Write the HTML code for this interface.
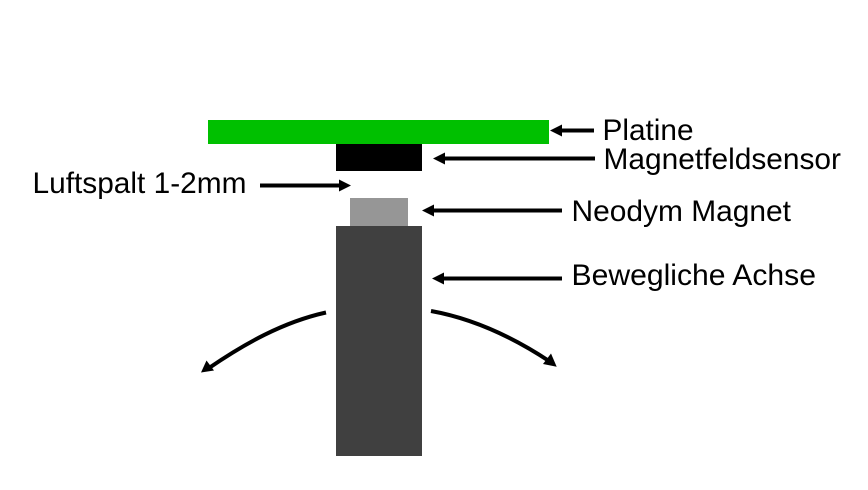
<!DOCTYPE html>
<html>
<head>
<meta charset="utf-8">
<style>
html,body{margin:0;padding:0;background:#fff;width:868px;height:490px;overflow:hidden}
svg{display:block}
text{font-family:"Liberation Sans",Arial,sans-serif;font-size:29.8px;fill:#000}
</style>
</head>
<body>
<svg width="868" height="490" viewBox="0 0 868 490" xmlns="http://www.w3.org/2000/svg">
<rect width="868" height="490" fill="#fff"/>
<rect x="208" y="120" width="341" height="24" fill="#00c000"/>
<rect x="336" y="144" width="86" height="27" fill="#000"/>
<rect x="350" y="198" width="58" height="28" fill="#969696"/>
<rect x="336" y="226" width="86" height="230" fill="#404040"/>

<g stroke="#000" stroke-width="4" fill="none">
<line x1="594" y1="130.5" x2="560" y2="130.5"/>
<line x1="595" y1="158.5" x2="443" y2="158.5"/>
<line x1="260" y1="185.5" x2="341" y2="185.5"/>
<line x1="562" y1="210.5" x2="432" y2="210.5"/>
<line x1="562" y1="278.5" x2="442" y2="278.5"/>
<path d="M326 312.5 C283 322 244 344 209 368"/>
<path d="M431 311 C470 318 508 334 549 361"/>
</g>
<g fill="#000">
<polygon points="550,130.5 562,124.5 562,136.5"/>
<polygon points="433,158.5 445,152.5 445,164.5"/>
<polygon points="351,185.5 339,179.5 339,191.5"/>
<polygon points="422,210.5 434,204.5 434,216.5"/>
<polygon points="432,278.5 444,272.5 444,284.5"/>
<polygon points="201,372.5 206.5,360.5 214,370.5"/>
<polygon points="556.7,366.7 543,364 551,353.5"/>
</g>

<text x="602.5" y="140" textLength="91" lengthAdjust="spacingAndGlyphs">Platine</text>
<text x="603.5" y="169" textLength="237.5" lengthAdjust="spacingAndGlyphs">Magnetfeldsensor</text>
<text x="32.5" y="193" textLength="214" lengthAdjust="spacingAndGlyphs">Luftspalt 1-2mm</text>
<text x="571.5" y="221" textLength="219.5" lengthAdjust="spacingAndGlyphs">Neodym Magnet</text>
<text x="571.5" y="285" textLength="244.5" lengthAdjust="spacingAndGlyphs">Bewegliche Achse</text>
</svg>
</body>
</html>
